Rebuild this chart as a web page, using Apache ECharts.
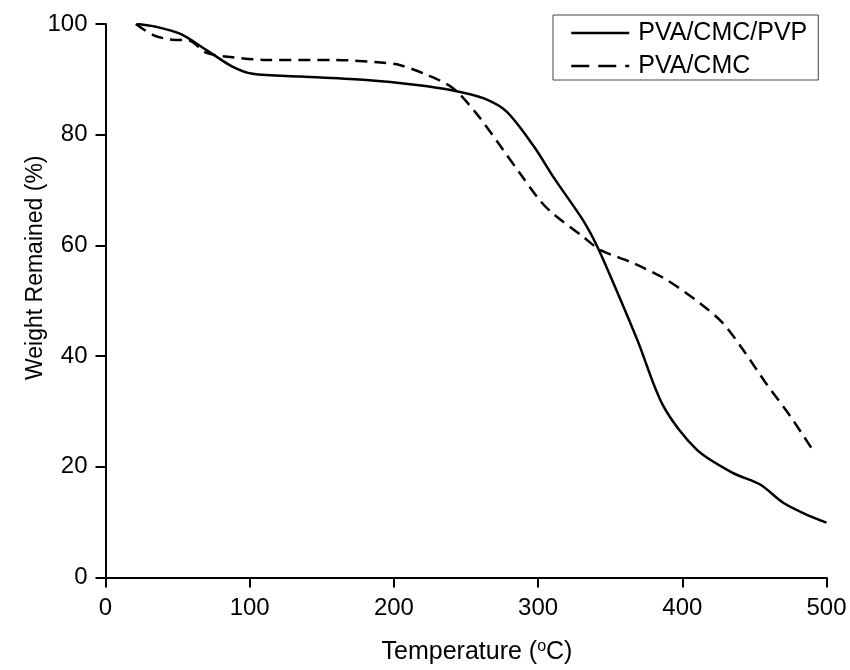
<!DOCTYPE html>
<html>
<head>
<meta charset="utf-8">
<script src="https://cdn.jsdelivr.net/npm/echarts@6/dist/echarts.min.js"></script>
<style>
html,body{margin:0;padding:0;background:#fff;}
#chart{width:850px;height:670px;}
</style>
</head>
<body>
<div id="chart"></div>
<script>
var xTicks = [0, 100, 200, 300, 400, 500];
var yTicks = [0, 20, 40, 60, 80, 100];

var seriesNames = ['PVA/CMC/PVP', 'PVA/CMC'];

var tempPVP = [22, 35, 52, 70, 88, 102, 135, 181, 216, 241, 262, 278, 297, 311, 331, 341, 355, 369, 387, 410, 435, 454, 470, 485, 500];
var weightPVP = [100, 99.5, 98.2, 95.3, 92.3, 91.0, 90.5, 89.9, 89.0, 88.0, 86.6, 84.2, 77.9, 72.2, 64.6, 59.8, 51.5, 42.8, 30.9, 23.1, 18.9, 16.8, 13.5, 11.5, 9.9];

var tempCMC = [21, 33, 45, 58, 70, 88, 112, 158, 193, 204, 223, 241, 257, 274, 288, 301, 310, 331, 343, 366, 389, 412, 428, 442, 458, 475, 491];
var weightCMC = [100, 98.0, 97.2, 97.0, 94.8, 94.0, 93.5, 93.5, 93.0, 92.6, 90.8, 88.4, 83.9, 77.9, 72.8, 68.2, 65.8, 61.6, 59.2, 56.8, 53.8, 49.6, 46.0, 41.2, 35.1, 29.1, 22.8];

function pairs(xs, ys) {
  var out = [];
  for (var i = 0; i < xs.length; i++) out.push([xs[i], ys[i]]);
  return out;
}

var FONT = 'Liberation Sans, Arial, sans-serif';
var chart = echarts.init(document.getElementById('chart'), null, {renderer: 'canvas'});

var axisCommon = {
  axisLine: {show: true, onZero: false, lineStyle: {color: '#000', width: 2}},
  axisTick: {show: true, inside: false, length: 10, lineStyle: {color: '#000', width: 2}},
  splitLine: {show: false},
  axisLabel: {color: '#000', fontFamily: FONT, fontSize: 24}
};

chart.setOption({
  backgroundColor: '#fff',
  animation: false,
  grid: {left: 105.5, right: 23.5, top: 24, bottom: 92, containLabel: false},
  legend: {
    orient: 'vertical',
    left: 553,
    top: 15,
    padding: [4, 11, 0, 17],
    itemGap: 5,
    itemWidth: 58,
    itemHeight: 14,
    borderColor: '#444',
    borderWidth: 1,
    borderRadius: 0,
    itemStyle: {opacity: 0},
    textStyle: {color: '#000', fontFamily: FONT, fontSize: 25, lineHeight: 24, padding: [4, 0, 0, 4]},
    data: [
      {name: seriesNames[0], lineStyle: {type: 'solid', width: 2.5}},
      {name: seriesNames[1], lineStyle: {type: [18, 9], width: 2.5}}
    ]
  },
  xAxis: Object.assign({}, axisCommon, {
    type: 'value',
    min: xTicks[0],
    max: xTicks[xTicks.length - 1],
    interval: 100,
    name: 'Temperature ({sup|o}C)',
    nameLocation: 'middle',
    nameGap: 61,
    nameMoveOverlap: false,
    nameTextStyle: {
      color: '#000', fontFamily: FONT, fontSize: 25, padding: [0, 0, 0, 22],
      rich: {sup: {fontFamily: FONT, fontSize: 16, verticalAlign: 'top', padding: [0, 0, 12, 0], color: '#000'}}
    },
    axisLabel: Object.assign({}, axisCommon.axisLabel, {margin: 19})
  }),
  yAxis: Object.assign({}, axisCommon, {
    type: 'value',
    min: yTicks[0],
    max: yTicks[yTicks.length - 1],
    interval: 20,
    name: 'Weight Remained (%)',
    nameLocation: 'middle',
    nameRotate: 90,
    nameGap: 58,
    nameMoveOverlap: false,
    nameTextStyle: {color: '#000', fontFamily: FONT, fontSize: 23, padding: [0, 0, 0, 66]},
    axisLabel: Object.assign({}, axisCommon.axisLabel, {margin: 18})
  }),
  series: [
    {
      name: seriesNames[0],
      type: 'line',
      smooth: 0.3,
      symbol: 'none',
      lineStyle: {color: '#000', width: 2.5, type: 'solid'},
      itemStyle: {color: '#000'},
      data: pairs(tempPVP, weightPVP)
    },
    {
      name: seriesNames[1],
      type: 'line',
      smooth: 0.3,
      symbol: 'none',
      lineStyle: {color: '#000', width: 2.5, type: [12, 7]},
      itemStyle: {color: '#000'},
      data: pairs(tempCMC, weightCMC)
    }
  ]
});
</script>
</body>
</html>
